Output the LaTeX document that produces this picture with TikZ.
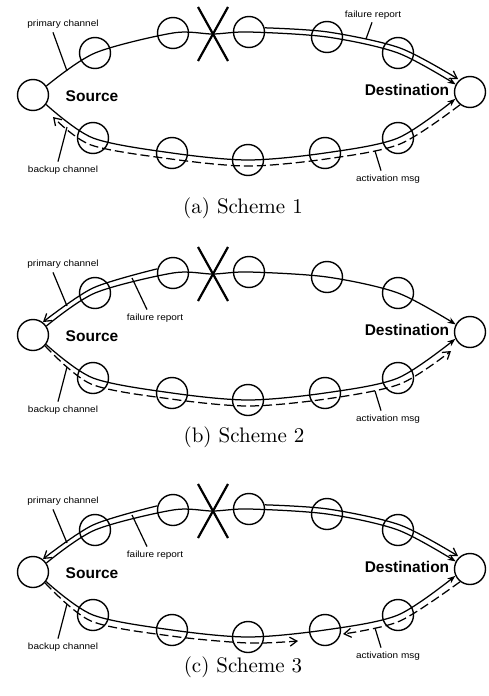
\documentclass[tikz,border=0pt]{standalone}
\usepackage{fontspec}
\newfontfamily\lblfont{Liberation Sans}
\newfontfamily\capfont{lmroman10-regular.otf}
\usetikzlibrary{arrows.meta}
\tikzset{
  station/.style={circle,draw,line width=1.4pt,minimum size=31pt,inner sep=0pt},
  chan/.style={line width=1.25pt},
  solidarrow/.style={chan,-{Stealth[length=8pt,width=6pt]}},
  reportline/.style={chan,-{Straight Barb[length=7pt,width=9pt]}},
  msgline/.style={chan,dash pattern=on 9pt off 4pt,-{Straight Barb[length=7pt,width=9pt]}},
  leader/.style={line width=1.2pt},
  smalllbl/.style={font=\lblfont\fontsize{10}{10}\selectfont,inner sep=0pt},
  endlbl/.style={font=\lblfont\bfseries\fontsize{15.5}{16}\selectfont,inner sep=0pt},
  caption/.style={font=\capfont\fontsize{21}{24}\selectfont,inner sep=0pt},
  crossmark/.style={line width=2.2pt},
}
\newcommand\PanelBase[2]{%
  \node[station] (#1S) at (33,95) {};
  \node[station] (#1D) at (470,92) {};
  \node[station] (#1t1) at (95,53) {};
  \node[station] (#1t2) at (173,33) {};
  \node[station] (#1t3) at (249,32) {};
  \node[station] (#1t4) at (327,37) {};
  \node[station] (#1t5) at (398,53) {};
  \node[station] (#1b1) at (93,138) {};
  \node[station] (#1b2) at (172,153) {};
  \node[station] (#1b3) at (248,160) {};
  \node[station] (#1b4) at (325,153) {};
  \node[station] (#1b5) at (398,138) {};
  \coordinate (#1x) at (213,34);
  \draw[crossmark] ([shift={(-15,-27)}]#1x) -- ([shift={(15,27)}]#1x)
                   ([shift={(15,-27)}]#1x) -- ([shift={(-15,27)}]#1x);
  \node[endlbl] (#1src) at (92,96) {Source};
  \node[endlbl] (#1dst) at (407,90) {Destination};
  \draw[solidarrow] plot[smooth] coordinates {(#1S.34) (#1t1.center) (#1t2.center) (#1x) (#1t3.center) (#1t4.center) (#1t5.center) (#1D.152)};
  \draw[solidarrow] plot[smooth] coordinates {(#1S.-36) (#1b1.center) (#1b2.center) (#1b3.center) (#1b4.center) (#1b5.center) (#1D.-155)};
  \node[smalllbl] (#1plbl) at (63,24) {\scalebox{1}[0.9]{primary channel}};
  \coordinate (#1pend) at (67,#2);
  \draw[leader] ([shift={(-10,4)}]#1plbl.south) -- (#1pend);
  \node[smalllbl] (#1blbl) at (63,170) {\scalebox{1}[0.9]{backup channel}};
  \coordinate (#1bend) at (67,127);
  \draw[leader] ([shift={(-5,-4)}]#1blbl.north) -- (#1bend);
  \node[smalllbl] (#1albl) at (388,179) {\scalebox{1}[0.9]{activation msg}};
  \coordinate (#1aend) at (375,151);
  \draw[leader] ([shift={(-7,-4)}]#1albl.north) -- (#1aend);
}
\newcommand\FailRight[1]{%
  \draw[reportline] plot[smooth] coordinates {(#1t3.15) (328,32) (400,48) (458,79)};
}
\newcommand\FailLeft[1]{%
  \draw[reportline] plot[smooth] coordinates {(#1t2.165) (93,48) (43,82)};
  \node[smalllbl] (#1flbl) at (155,78) {\scalebox{1}[0.9]{failure report}};
  \coordinate (#1fend) at (132,38);
  \draw[leader] (#1fend) -- ([shift={(-8,-4)}]#1flbl.north);
}
\begin{document}
\begin{tikzpicture}[x=1pt,y=-1pt]
\useasboundingbox (0,0) rectangle (489,696);
% ---------- panel a
\begin{scope}
  \PanelBase{a}{71}
  \FailRight{a}
  \node[smalllbl] (aflbl) at (373,15) {\scalebox{1}[0.9]{failure report}};
  \coordinate (afend) at (366,39);
  \draw[leader] ([shift={(-1,3)}]aflbl.south) -- (afend);
  \draw[msgline] plot[smooth] coordinates {(aD.-128) (400,144) (326,159) (248,166) (171,159) (91,145) (53,117)};
\end{scope}
\node[caption] (capa) at (243,208) {(a) Scheme 1};
% ---------- panel b
\begin{scope}[shift={(0,240)}]
  \PanelBase{b}{66}
  \FailLeft{b}
  \draw[msgline] plot[smooth] coordinates {(bS.-42) (91,144) (171,159) (248,166) (326,159) (400,144) (451,111)};
\end{scope}
\node[caption] (capb) at (244,437) {(b) Scheme 2};
% ---------- panel c
\begin{scope}[shift={(0,477)}]
  \PanelBase{c}{66}
  \FailLeft{c}
  \FailRight{c}
  \draw[msgline] plot[smooth] coordinates {(cS.-42) (91,144) (171,159) (248,166) (298,164)};
  \draw[msgline] plot[smooth] coordinates {(cD.-128) (400,144) (343,157)};
\end{scope}
\node[caption] (capc) at (243,667) {(c) Scheme 3};
\end{tikzpicture}
\end{document}
